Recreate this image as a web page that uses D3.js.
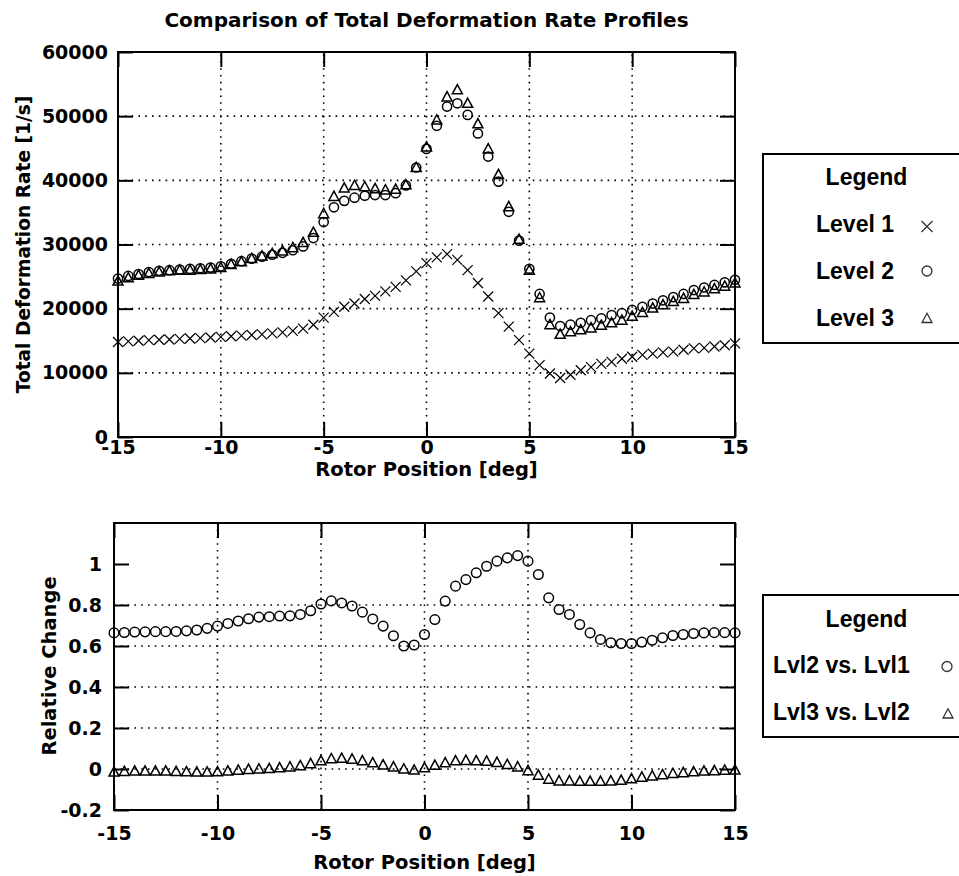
<!DOCTYPE html>
<html>
<head>
<meta charset="utf-8">
<script src="https://cdn.jsdelivr.net/npm/d3@7"></script>
<style>
  html, body { margin: 0; padding: 0; background: #fff; }
  svg { display: block; }
  .tick text { font-family: 'DejaVu Sans', sans-serif; font-weight: bold; font-size: 19px; fill: #000; }
  .lbl { font-family: 'DejaVu Sans', sans-serif; font-weight: bold; font-size: 19.5px; fill: #000; }
  .leg { font-family: 'Liberation Sans', Arial, sans-serif; font-weight: bold; font-size: 23px; fill: #000; }
</style>
</head>
<body>
<div id="chart"></div>
<script>
// rotor position samples [deg]
const rotorPos = [-15, -14.5, -14, -13.5, -13, -12.5, -12, -11.5, -11, -10.5, -10, -9.5, -9, -8.5, -8, -7.5, -7, -6.5, -6, -5.5,
  -5, -4.5, -4, -3.5, -3, -2.5, -2, -1.5, -1, -0.5, 0, 0.5, 1, 1.5, 2, 2.5, 3, 3.5, 4, 4.5,
  5, 5.5, 6, 6.5, 7, 7.5, 8, 8.5, 9, 9.5, 10, 10.5, 11, 11.5, 12, 12.5, 13, 13.5, 14, 14.5, 15];

// total deformation rate [1/s]
const level1 = [14800, 14900, 15000, 15100, 15150, 15200, 15300, 15350, 15400, 15500, 15600, 15700, 15800, 15900, 16000, 16150, 16300, 16550, 16900, 17500,
  18600, 19500, 20300, 20800, 21500, 22000, 22700, 23400, 24400, 25800, 27100, 28000, 28500, 27600, 26000, 24000, 21900, 19300, 17200, 15100,
  13000, 11200, 9900, 9200, 9700, 10400, 10900, 11400, 11700, 12200, 12500, 12800, 13000, 13200, 13300, 13600, 13800, 13900, 14100, 14300, 14600];
const level2 = [24700, 25100, 25400, 25700, 25900, 26000, 26100, 26200, 26300, 26400, 26600, 27000, 27400, 27800, 28100, 28400, 28700, 29100, 29700, 31000,
  33500, 35800, 36800, 37300, 37600, 37700, 37700, 38000, 39200, 42000, 44900, 48500, 51500, 52000, 50200, 47300, 43700, 39800, 35100, 30600,
  26200, 22300, 18600, 17300, 17500, 17800, 18200, 18500, 19000, 19300, 19800, 20300, 20800, 21300, 21800, 22300, 22900, 23300, 23700, 24100, 24500];
const level3 = [24300, 24800, 25200, 25500, 25700, 25900, 26000, 26000, 26100, 26200, 26400, 26900, 27300, 27800, 28200, 28600, 29000, 29500, 30300, 31900,
  34800, 37500, 38800, 39200, 39000, 38700, 38500, 38600, 39300, 42000, 45200, 49400, 53000, 54100, 52000, 48800, 44900, 40900, 35900, 30800,
  26000, 21700, 17500, 16000, 16400, 16700, 17000, 17400, 17800, 18200, 18800, 19400, 20100, 20600, 21100, 21600, 22200, 22600, 23100, 23500, 24000];

// relative change
const rel21 = [0.664, 0.666, 0.668, 0.669, 0.670, 0.670, 0.671, 0.674, 0.678, 0.686, 0.697, 0.710, 0.722, 0.733, 0.741, 0.743, 0.746, 0.747, 0.754, 0.772,
  0.805, 0.820, 0.810, 0.795, 0.765, 0.732, 0.697, 0.650, 0.600, 0.605, 0.656, 0.729, 0.819, 0.892, 0.924, 0.957, 0.989, 1.014, 1.030, 1.041,
  1.014, 0.949, 0.835, 0.778, 0.754, 0.705, 0.664, 0.632, 0.616, 0.612, 0.612, 0.619, 0.628, 0.640, 0.651, 0.656, 0.661, 0.664, 0.665, 0.665, 0.664];
const rel32 = [-0.015, -0.012, -0.010, -0.010, -0.010, -0.010, -0.012, -0.014, -0.015, -0.015, -0.014, -0.010, -0.006, -0.002, 0.000, 0.002, 0.006, 0.010, 0.016, 0.026,
  0.040, 0.050, 0.052, 0.048, 0.040, 0.030, 0.020, 0.010, 0.000, -0.005, 0.006, 0.018, 0.030, 0.040, 0.042, 0.040, 0.038, 0.032, 0.022, 0.010,
  -0.008, -0.030, -0.050, -0.058, -0.058, -0.060, -0.060, -0.060, -0.058, -0.055, -0.048, -0.040, -0.034, -0.028, -0.022, -0.018, -0.014, -0.010, -0.008, -0.006, -0.005];

// ticks
const xTicks = [-15, -10, -5, 0, 5, 10, 15];
const xTickLabels = ['-15', '-10', '-5', '0', '5', '10', '15'];
const yTicksTop = [0, 10000, 20000, 30000, 40000, 50000, 60000];
const yTickLabelsTop = ['0', '10000', '20000', '30000', '40000', '50000', '60000'];
const yTicksBot = [-0.2, 0, 0.2, 0.4, 0.6, 0.8, 1];
const yTickLabelsBot = ['-0.2', '0', '0.2', '0.4', '0.6', '0.8', '1'];

const W = 959, H = 876;
const svg = d3.select('#chart').append('svg').attr('width', W).attr('height', H);

// marker shapes
function markerPath(type, s) {
  if (type === 'x') return `M${-s},${-s}L${s},${s}M${-s},${s}L${s},${-s}`;
  if (type === 'tri') return `M0,${-s * 1.05}L${s},${s * 0.8}L${-s},${s * 0.8}Z`;
  return d3.arc()({ innerRadius: 0, outerRadius: s, startAngle: 0, endAngle: 2 * Math.PI });
}

function panel(opts) {
  const { x, y, xTickPad, yTickPad } = opts;
  const g = svg.append('g');
  const [x0, x1] = x.range();
  const [y0, y1] = y.range();

  // dotted grid
  g.append('g').selectAll('line').data(xTicks.slice(1, -1)).join('line')
    .attr('x1', d => x(d)).attr('x2', d => x(d)).attr('y1', y0).attr('y2', y1)
    .attr('stroke', '#000').attr('stroke-width', 1.6).attr('stroke-dasharray', '1.6,5.2');
  g.append('g').selectAll('line').data(opts.yTicks.slice(1, -1)).join('line')
    .attr('y1', d => y(d)).attr('y2', d => y(d)).attr('x1', x0).attr('x2', x1)
    .attr('stroke', '#000').attr('stroke-width', 1.6).attr('stroke-dasharray', '1.6,5.2');

  // axes (ticks inward, on all four sides)
  const fmtX = d => xTickLabels[xTicks.indexOf(d)];
  const fmtY = d => opts.yLabels[opts.yTicks.indexOf(d)];
  g.append('g').attr('transform', `translate(0,${y0})`)
    .call(d3.axisBottom(x).tickValues(xTicks).tickFormat(fmtX).tickSizeInner(-15).tickSizeOuter(0).tickPadding(xTickPad));
  g.append('g').attr('transform', `translate(0,${y1})`)
    .call(d3.axisTop(x).tickValues(xTicks).tickFormat('').tickSizeInner(-15).tickSizeOuter(0));
  g.append('g').attr('transform', `translate(${x0},0)`)
    .call(d3.axisLeft(y).tickValues(opts.yTicks).tickFormat(fmtY).tickSizeInner(-15).tickSizeOuter(0).tickPadding(yTickPad));
  g.append('g').attr('transform', `translate(${x1},0)`)
    .call(d3.axisRight(y).tickValues(opts.yTicks).tickFormat('').tickSizeInner(-15).tickSizeOuter(0));
  g.selectAll('.domain').remove();
  g.selectAll('.tick line').attr('stroke', '#000').attr('stroke-width', 2);

  // data markers
  opts.series.forEach(s => {
    g.append('g').selectAll('path').data(rotorPos).join('path')
      .attr('transform', (d, i) => `translate(${x(d)},${y(s.values[i])})`)
      .attr('d', markerPath(s.type, s.size))
      .attr('fill', 'none').attr('stroke', '#000').attr('stroke-width', s.sw);
  });

  // box
  g.append('rect').attr('x', x0).attr('y', y1).attr('width', x1 - x0).attr('height', y0 - y1)
    .attr('fill', 'none').attr('stroke', '#000').attr('stroke-width', 2);
  return g;
}

// top panel
const xTop = d3.scaleLinear().domain([-15, 15]).range([118, 735]);
const yTop = d3.scaleLinear().domain([0, 60000]).range([437, 52]);
panel({
  x: xTop, y: yTop, yTicks: yTicksTop, yLabels: yTickLabelsTop, xTickPad: 3, yTickPad: 10,
  series: [
    { values: level1, type: 'x', size: 5, sw: 1.2 },
    { values: level2, type: 'o', size: 4.6, sw: 1.5 },
    { values: level3, type: 'tri', size: 5, sw: 1.5 }
  ]
});

// bottom panel
const xBot = d3.scaleLinear().domain([-15, 15]).range([114, 735]);
const yBot = d3.scaleLinear().domain([-0.2, 1.2]).range([810, 523]);
panel({
  x: xBot, y: yBot, yTicks: yTicksBot, yLabels: yTickLabelsBot, xTickPad: 17, yTickPad: 12,
  series: [
    { values: rel21, type: 'o', size: 4.8, sw: 1.5 },
    { values: rel32, type: 'tri', size: 5, sw: 1.5 }
  ]
});

// titles and axis labels
svg.append('text').attr('class', 'lbl').style('font-size', '20px')
  .attr('x', 426.5).attr('y', 27).attr('text-anchor', 'middle')
  .text('Comparison of Total Deformation Rate Profiles');
svg.append('text').attr('class', 'lbl').attr('x', 426.5).attr('y', 476).attr('text-anchor', 'middle')
  .text('Rotor Position [deg]');
svg.append('text').attr('class', 'lbl').attr('x', 424.5).attr('y', 869).attr('text-anchor', 'middle')
  .text('Rotor Position [deg]');
svg.append('text').attr('class', 'lbl').style('font-size', '18.6px').attr('text-anchor', 'middle')
  .attr('transform', 'translate(30,244.5) rotate(-90)').text('Total Deformation Rate [1/s]');
svg.append('text').attr('class', 'lbl').attr('text-anchor', 'middle')
  .attr('transform', 'translate(56,666) rotate(-90)').text('Relative Change');

// legends
function legend(top, bottom, titleY, rows) {
  const g = svg.append('g');
  g.append('rect').attr('x', 763).attr('y', top).attr('width', 220).attr('height', bottom - top)
    .attr('fill', '#fff').attr('stroke', '#000').attr('stroke-width', 2);
  g.append('text').attr('class', 'leg').attr('x', 866.5).attr('y', titleY).attr('text-anchor', 'middle').text('Legend');
  rows.forEach(r => {
    g.append('text').attr('class', 'leg').attr('x', r.tx).attr('y', r.ty).text(r.label);
    g.append('path').attr('transform', `translate(${r.mx},${r.my})`)
      .attr('d', markerPath(r.type, r.size))
      .attr('fill', 'none').attr('stroke', '#333').attr('stroke-width', 1.3);
  });
}
legend(154, 343, 185, [
  { label: 'Level 1', type: 'x', tx: 816, ty: 232, mx: 927, my: 226.5, size: 5.5 },
  { label: 'Level 2', type: 'o', tx: 816, ty: 279, mx: 927, my: 271, size: 5 },
  { label: 'Level 3', type: 'tri', tx: 816, ty: 326, mx: 927, my: 318.5, size: 5 }
]);
legend(595, 737, 627, [
  { label: 'Lvl2 vs. Lvl1', type: 'o', tx: 773, ty: 673, mx: 947, my: 666.5, size: 5 },
  { label: 'Lvl3 vs. Lvl2', type: 'tri', tx: 773, ty: 720, mx: 948, my: 714, size: 5 }
]);
</script>
</body>
</html>
